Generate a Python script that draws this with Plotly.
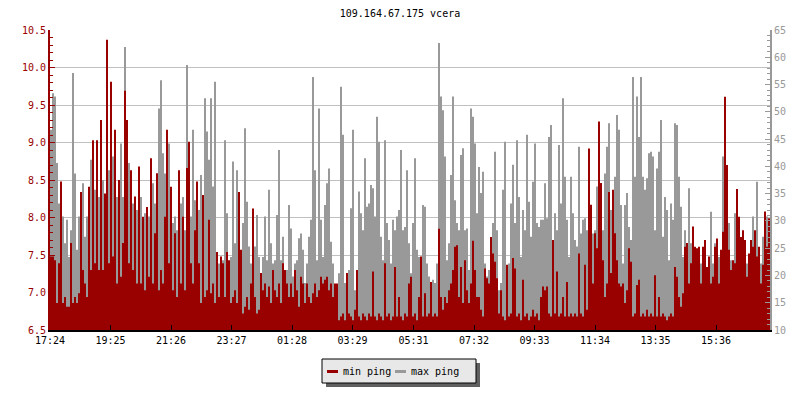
import plotly.graph_objects as go

TITLE = "109.164.67.175 vcera"
START_TIME = "17:24"
STEP_MIN = 4
TICK_LABELS = ["17:24", "19:25", "21:26", "23:27", "01:28", "03:29",
               "05:31", "07:32", "09:33", "11:34", "13:35", "15:36"]
LEFT_RANGE = [6.5, 10.5]
RIGHT_RANGE = [10, 65]

# min ping (left axis), one value per 4 minutes
MIN_PING = [
    7.48, 7.48, 7.43, 6.86, 7.39, 8.48, 6.86, 6.94, 6.81, 6.81,
    7.66, 6.86, 6.94, 6.86, 6.99, 8.34, 7.30, 7.12, 6.94, 8.41,
    7.30, 9.03, 7.39, 9.03, 7.30, 9.30, 7.30, 8.32, 10.37, 7.39,
    9.81, 7.48, 9.17, 7.12, 8.50, 7.21, 7.66, 9.69, 9.30, 7.39,
    8.63, 7.30, 8.28, 7.12, 8.68, 7.12, 8.01, 7.03, 8.14, 7.21,
    8.79, 7.12, 7.79, 8.59, 7.03, 7.30, 7.12, 8.01, 9.17, 7.39,
    8.41, 7.03, 7.79, 6.94, 8.63, 7.12, 8.01, 7.03, 8.66, 9.01,
    7.39, 7.12,
    7.83, 8.48, 7.39, 6.86, 8.30, 6.94, 7.03, 7.97, 6.99, 7.12,
    6.86, 7.54, 6.94, 7.48, 7.39, 6.94, 7.54, 7.43, 6.86, 6.94,
    7.03, 6.86, 8.34, 7.57, 6.72, 6.81, 6.94, 6.77, 7.12, 8.12,
    6.94, 6.72, 6.77, 7.26, 7.03, 7.12, 6.94, 7.08, 6.86, 7.30,
    7.03, 6.94, 7.12, 6.86, 7.39, 7.30, 7.12, 6.94, 7.12, 6.94,
    7.30, 7.03, 6.81, 7.21, 7.12, 6.86, 7.12, 6.94, 6.86, 6.99,
    7.12, 6.94, 7.03, 7.21, 7.12, 7.17, 7.21, 7.03, 7.12, 6.94,
    7.12, 7.12,
    6.63, 6.68, 6.72, 6.63, 7.26, 6.72, 6.68, 6.63, 6.77, 7.30,
    6.68, 6.63, 6.72, 6.68, 6.63, 6.72, 6.68, 7.28, 6.68, 6.63,
    6.72, 6.68, 6.63, 7.39, 6.68, 6.72, 6.63, 6.68, 7.34, 6.68,
    6.94, 6.68, 6.63, 6.72, 6.68, 7.12, 7.21, 6.68, 6.72, 6.63,
    6.94, 7.48, 6.68, 6.99, 6.68, 6.72, 7.14, 6.68, 6.72, 6.68,
    7.85, 6.94, 6.77, 6.94, 6.86, 7.03, 7.12, 7.30, 7.61, 7.63,
    6.94, 7.34, 6.86, 7.43, 7.03, 6.86, 7.12, 7.69, 7.30, 6.94,
    6.94, 6.77,
    6.68, 7.32, 7.19, 7.12, 7.74, 7.52, 7.41, 7.19, 6.72, 7.03,
    6.68, 6.63, 7.37, 6.68, 6.72, 7.46, 7.32, 6.68, 6.72, 6.63,
    7.17, 6.68, 6.72, 6.63, 6.68, 6.77, 6.68, 6.72, 6.63, 6.94,
    7.08, 7.03, 7.08, 6.72, 6.68, 7.70, 6.72, 7.28, 6.68, 6.72,
    6.94, 6.68, 7.14, 6.68, 6.72, 6.68, 6.72, 6.68, 7.52, 6.72,
    6.68, 7.37, 6.77, 8.92, 8.17, 7.12, 7.79, 7.59, 9.28, 8.46,
    7.43, 6.94, 7.12, 8.34, 7.26, 8.37, 7.79, 7.43, 7.12, 7.08,
    7.12, 6.86,
    7.03, 7.59, 7.41, 6.68, 6.72, 7.10, 7.17, 6.68, 6.72, 6.68,
    6.77, 6.68, 6.72, 6.68, 7.23, 6.68, 6.94, 6.68, 6.72, 6.68,
    6.63, 6.68, 6.72, 6.68, 7.34, 7.21, 6.94, 6.81, 6.99, 7.61,
    7.66, 7.12, 7.39, 7.88, 7.61, 7.59, 7.61, 7.12, 7.61, 7.70,
    7.34, 7.48, 7.12, 7.21, 7.61, 7.72, 7.12, 7.57, 7.81, 9.61,
    8.70, 7.57, 7.30, 7.43, 7.39, 8.38, 8.01, 7.74, 7.83, 7.70,
    7.21, 7.52, 7.70, 7.61, 7.83, 7.48, 7.61, 7.12, 7.37, 8.08,
    7.61, 7.99,
]

# max ping (right axis), one value per 4 minutes
MAX_PING = [
    46.7, 53.4, 52.8, 40.6, 33.2, 30.8, 30.8, 25.9, 30.2, 23.4,
    28.3, 57.1, 38.7, 24.7, 30.8, 28.3, 36.9, 27.1, 30.8, 25.9,
    41.2, 33.2, 35.7, 30.8, 34.4, 30.8, 37.5, 28.3, 46.7, 39.3,
    53.4, 41.8, 36.3, 34.4, 29.6, 44.2, 34.4, 61.9, 35.7, 40.6,
    26.5, 33.2, 29.6, 32.0, 28.3, 34.4, 28.3, 31.4, 25.9, 30.8,
    34.4, 36.9, 33.2, 28.9, 50.6, 55.8, 42.4, 38.7, 42.4, 44.2,
    30.8, 29.6, 30.8, 28.3, 32.0, 33.2, 34.4, 28.3, 58.6, 40.6,
    30.8, 46.7,
    33.8, 35.7, 32.0, 38.4, 28.3, 52.5, 46.4, 41.2, 52.5, 36.3,
    55.5, 23.4, 22.2, 21.0, 22.8, 44.8, 31.4, 21.6, 23.4, 40.9,
    25.9, 39.3, 30.8, 22.8, 29.6, 47.0, 33.5, 25.3, 22.2, 22.8,
    25.3, 31.1, 23.4, 19.8, 23.4, 30.8, 22.8, 35.7, 25.9, 22.2,
    22.8, 31.1, 43.0, 22.8, 27.1, 19.8, 21.0, 32.9, 28.6, 19.8,
    22.2, 22.8, 26.8, 27.7, 24.7, 18.6, 22.2, 27.1, 30.2, 56.4,
    39.3, 22.8, 50.6, 30.2, 23.4, 32.9, 36.9, 39.6, 26.2, 22.2,
    16.7, 12.4,
    20.4, 54.6, 45.8, 18.6, 16.7, 21.0, 32.3, 46.7, 17.3, 17.9,
    35.4, 31.4, 28.3, 41.5, 32.6, 33.2, 36.6, 36.0, 30.8, 49.1,
    44.5, 27.1, 22.8, 44.8, 29.6, 26.5, 22.2, 30.2, 28.3, 30.8,
    32.0, 43.0, 28.3, 28.9, 39.3, 25.9, 20.4, 29.6, 41.5, 24.7,
    23.4, 19.8, 32.9, 32.6, 22.2, 19.8, 18.6, 19.2, 18.6, 22.2,
    62.6, 52.8, 50.3, 41.8, 22.8, 25.9, 38.4, 52.8, 33.8, 29.6,
    28.3, 42.1, 43.3, 28.3, 28.6, 21.0, 50.6, 49.1, 44.2, 31.4,
    39.9, 35.1,
    39.0, 22.2, 19.8, 21.0, 22.2, 29.6, 42.7, 28.3, 17.3, 18.6,
    35.7, 44.5, 19.8, 22.2, 33.2, 40.3, 29.6, 44.8, 34.4, 23.4,
    32.0, 28.3, 45.8, 33.5, 27.1, 37.2, 44.2, 29.6, 28.9, 30.2,
    30.2, 36.9, 30.5, 45.4, 47.6, 24.7, 31.4, 28.3, 43.9, 33.2,
    52.5, 38.1, 30.2, 23.4, 38.1, 31.4, 26.5, 25.3, 43.6, 27.7,
    30.2, 30.5, 28.3, 34.4, 27.7, 27.7, 28.3, 36.3, 43.0, 28.9,
    28.3, 38.7, 43.6, 47.9, 32.0, 28.3, 38.1, 49.4, 46.7, 32.9,
    22.2, 32.9,
    35.1, 28.9, 26.5, 56.4, 38.1, 52.8, 45.4, 56.4, 38.1, 35.7,
    37.8, 42.4, 42.7, 41.8, 28.3, 39.6, 42.7, 48.5, 27.1, 34.4,
    32.0, 22.8, 33.2, 30.2, 47.9, 47.6, 38.1, 32.6, 23.4, 28.3,
    25.9, 36.0, 25.9, 25.9, 22.2, 22.2, 23.4, 22.2, 22.8, 21.0,
    20.4, 22.2, 31.7, 22.2, 25.9, 24.7, 23.4, 21.0, 41.8, 39.9,
    39.3, 29.6, 22.8, 22.2, 31.4, 28.3, 21.0, 22.2, 22.2, 21.0,
    22.2, 23.4, 22.2, 30.8, 25.9, 37.2, 21.0, 22.2, 27.1, 29.9,
    30.8, 22.2,
]

RED = "#990000"
GREY = "#999999"
FONT = "DejaVu Sans Mono"


def to_min(s):
    h, m = map(int, s.split(":"))
    return h * 60 + m


t0 = to_min(START_TIME)
tickvals = [(to_min(s) - t0) % 1440 for s in TICK_LABELS]
n = len(MIN_PING)
x = [i * STEP_MIN for i in range(n)] + [n * STEP_MIN]
y_min = MIN_PING + MIN_PING[-1:]
y_max = MAX_PING + MAX_PING[-1:]

fig = go.Figure()
fig.add_trace(go.Scatter(
    x=x, y=y_max, yaxis="y", mode="lines", name="max ping",
    line=dict(shape="hv", width=0, color=GREY),
    fill="tozeroy", fillcolor=GREY, showlegend=False, hoverinfo="skip"))
fig.add_trace(go.Scatter(
    x=x, y=y_min, yaxis="y2", mode="lines", name="min ping",
    line=dict(shape="hv", width=0, color=RED),
    fill="tozeroy", fillcolor=RED, showlegend=False, hoverinfo="skip"))


# custom legend (box with shadow, short line swatches, labels)
def px_x(p):
    return (p - 50) / 720.0


def px_y(p):
    return (330 - p) / 300.0


shapes = [
    dict(type="rect", xref="paper", yref="paper", x0=px_x(326), x1=px_x(480),
         y0=px_y(387), y1=px_y(363), fillcolor="#606060", line=dict(width=0)),
    dict(type="rect", xref="paper", yref="paper", x0=px_x(322), x1=px_x(476),
         y0=px_y(383), y1=px_y(359), fillcolor="#e8e8e8",
         line=dict(color="black", width=1)),
    dict(type="line", xref="paper", yref="paper", x0=px_x(327), x1=px_x(338),
         y0=px_y(371.5), y1=px_y(371.5), line=dict(color=RED, width=3)),
    dict(type="line", xref="paper", yref="paper", x0=px_x(395), x1=px_x(406),
         y0=px_y(371.5), y1=px_y(371.5), line=dict(color=GREY, width=3)),
]
annotations = [
    dict(text="min ping", xref="paper", yref="paper", x=px_x(341), y=px_y(371),
         xanchor="left", yanchor="middle", showarrow=False,
         font=dict(family=FONT, size=10, color="black")),
    dict(text="max ping", xref="paper", yref="paper", x=px_x(409), y=px_y(371),
         xanchor="left", yanchor="middle", showarrow=False,
         font=dict(family=FONT, size=10, color="black")),
]

fig.update_layout(
    width=800, height=400,
    margin=dict(l=50, r=30, t=30, b=70),
    paper_bgcolor="white", plot_bgcolor="white",
    font=dict(family=FONT, size=10, color="black"),
    title=dict(text=TITLE, x=0.5, xanchor="center", y=1 - 13 / 400,
               yanchor="middle", font=dict(family=FONT, size=10, color="black")),
    showlegend=False,
    xaxis=dict(range=[0, n * STEP_MIN], tickmode="array", tickvals=tickvals,
               ticktext=TICK_LABELS, ticks="inside", ticklen=5, tickcolor="black",
               showline=True, linecolor="black", linewidth=2, showgrid=False,
               zeroline=False, tickfont=dict(family=FONT, size=10, color="black")),
    yaxis=dict(side="right", range=RIGHT_RANGE, tick0=10, dtick=5,
               ticks="inside", ticklen=5, tickcolor=GREY, showline=True,
               linecolor=GREY, linewidth=2, showgrid=False, zeroline=False,
               tickfont=dict(family=FONT, size=10, color=GREY),
               minor=dict(dtick=1, ticks="inside", ticklen=3, tickcolor=GREY,
                          showgrid=False)),
    yaxis2=dict(overlaying="y", side="left", range=LEFT_RANGE, tick0=6.5,
                dtick=0.5, tickformat=".1f", ticks="inside", ticklen=5,
                tickcolor=RED, showline=True, linecolor=RED, linewidth=2,
                showgrid=True, gridcolor="#c0c0c0", gridwidth=1, zeroline=False,
                tickfont=dict(family=FONT, size=10, color=RED),
                minor=dict(dtick=0.1, ticks="inside", ticklen=3, tickcolor=RED,
                           showgrid=False)),
    shapes=shapes,
    annotations=annotations,
)

fig.write_html("out.html",
               config={"displayModeBar": False},
               post_script="document.body.style.margin='0px';")
